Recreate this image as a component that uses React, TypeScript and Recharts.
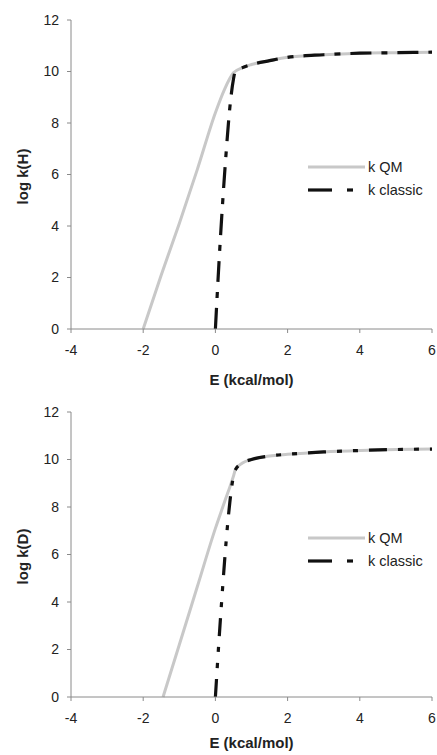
import { LineChart, Line, XAxis, YAxis } from "recharts";

// energy (kcal/mol) vs log k
const xTicks = [-4, -2, 0, 2, 4, 6];
const yTicks = [0, 2, 4, 6, 8, 10, 12];

const eQmH = [-2.0, -1.5, -1.0, -0.5, 0, 0.25, 0.5, 0.75, 1, 1.5, 2, 3, 4, 5, 6];
const kQmH = [0, 2.1, 4.1, 6.2, 8.4, 9.3, 9.95, 10.15, 10.27, 10.42, 10.55, 10.65, 10.71, 10.73, 10.75];
const eClH = [0, 0.1, 0.2, 0.3, 0.4, 0.5, 0.55, 0.75, 1, 1.5, 2, 3, 4, 5, 6];
const kClH = [0, 2.6, 4.9, 6.9, 8.6, 9.7, 10.0, 10.15, 10.27, 10.42, 10.55, 10.65, 10.71, 10.73, 10.75];

const eQmD = [-1.45, -1.0, -0.5, 0, 0.25, 0.5, 0.55, 0.75, 1, 1.5, 2, 3, 4, 5, 6];
const kQmD = [0, 2.2, 4.65, 7.1, 8.2, 9.3, 9.56, 9.85, 10.0, 10.15, 10.22, 10.32, 10.38, 10.42, 10.44];
const eClD = [0, 0.1, 0.2, 0.3, 0.4, 0.5, 0.55, 0.75, 1, 1.5, 2, 3, 4, 5, 6];
const kClD = [0, 2.4, 4.6, 6.6, 8.2, 9.3, 9.56, 9.85, 10.0, 10.15, 10.22, 10.32, 10.38, 10.42, 10.44];

const zip = (xs: number[], ys: number[]) => xs.map((e, i) => ({ e, v: ys[i] }));

const FONT = "'Liberation Sans', Arial, sans-serif";
const AXIS = "#8a8a8a";
const TEXT = "#222";
const GREY = "#c8c8c8";

function LegendBox({ top }: { top: number }) {
  return (
    <svg width={120} height={44} style={{ position: "absolute", left: 308, top }}>
      <line x1={0} y1={10} x2={57} y2={10} stroke={GREY} strokeWidth={3} />
      <text x={60} y={15} fontSize={14.5} fill={TEXT} fontFamily={FONT}>k QM</text>
      <line x1={0} y1={33} x2={24} y2={33} stroke="#111" strokeWidth={3.2} />
      <line x1={39} y1={33} x2={45} y2={33} stroke="#111" strokeWidth={3.2} />
      <text x={60} y={38} fontSize={14.5} fill={TEXT} fontFamily={FONT}>k classic</text>
    </svg>
  );
}

function Panel({
  qm,
  classic,
  yLabel,
  height,
  top,
  plotH,
  legendTop,
  titleOffset,
  dash,
}: {
  qm: { e: number; v: number }[];
  classic: { e: number; v: number }[];
  yLabel: string;
  height: number;
  top: number;
  plotH: number;
  legendTop: number;
  titleOffset: number;
  dash: string;
}) {
  return (
    <div style={{ position: "relative", width: 437, height }}>
      <LineChart width={437} height={height} margin={{ top, right: 5, bottom: 0, left: 0 }}>
        <XAxis
          type="number"
          dataKey="e"
          domain={[-4, 6]}
          ticks={xTicks}
          allowDuplicatedCategory={false}
          stroke={AXIS}
          tickSize={4}
          tickMargin={12}
          height={height - top - plotH}
          tick={{ fontSize: 14, fill: TEXT, fontFamily: FONT }}
          label={(props: any) => {
            const vb = props.viewBox;
            return (
              <text
                x={vb.x + vb.width / 2}
                y={vb.y + vb.height - titleOffset}
                textAnchor="middle"
                fontSize={15}
                fontWeight="bold"
                fill={TEXT}
                fontFamily={FONT}
              >
                E (kcal/mol)
              </text>
            );
          }}
        />
        <YAxis
          type="number"
          dataKey="v"
          domain={[0, 12]}
          ticks={yTicks}
          width={71}
          stroke={AXIS}
          tickSize={4}
          tickMargin={8}
          tick={{ fontSize: 14, fill: TEXT, fontFamily: FONT }}
          label={(props: any) => {
            const vb = props.viewBox;
            const cx = 22;
            const cy = vb.y + vb.height / 2 + 2;
            return (
              <text
                x={cx}
                y={cy}
                transform={`rotate(-90 ${cx} ${cy})`}
                textAnchor="middle"
                dominantBaseline="central"
                fontSize={15}
                fontWeight="bold"
                fill={TEXT}
                fontFamily={FONT}
              >
                {yLabel}
              </text>
            );
          }}
        />
        <Line
          data={qm}
          dataKey="v"
          name="k QM"
          type="monotone"
          stroke={GREY}
          strokeWidth={3}
          dot={false}
          isAnimationActive={false}
        />
        <Line
          data={classic}
          dataKey="v"
          name="k classic"
          type="monotone"
          stroke="#111"
          strokeWidth={3.2}
          strokeDasharray={dash}
          dot={false}
          isAnimationActive={false}
        />
      </LineChart>
      <LegendBox top={legendTop} />
    </div>
  );
}

export default function App() {
  return (
    <div style={{ position: "absolute", left: 0, top: 0, width: 437, height: 755, background: "#fff" }}>
      <Panel
        qm={zip(eQmH, kQmH)}
        classic={zip(eClH, kClH)}
        yLabel="log k(H)"
        height={390}
        top={20}
        plotH={309}
        legendTop={157}
        titleOffset={5}
        dash="21 10 6 10"
      />
      <Panel
        qm={zip(eQmD, kQmD)}
        classic={zip(eClD, kClD)}
        yLabel="log k(D)"
        height={365}
        top={22}
        plotH={285}
        legendTop={138}
        titleOffset={7}
        dash="18 11 5 11 5 11"
      />
    </div>
  );
}
